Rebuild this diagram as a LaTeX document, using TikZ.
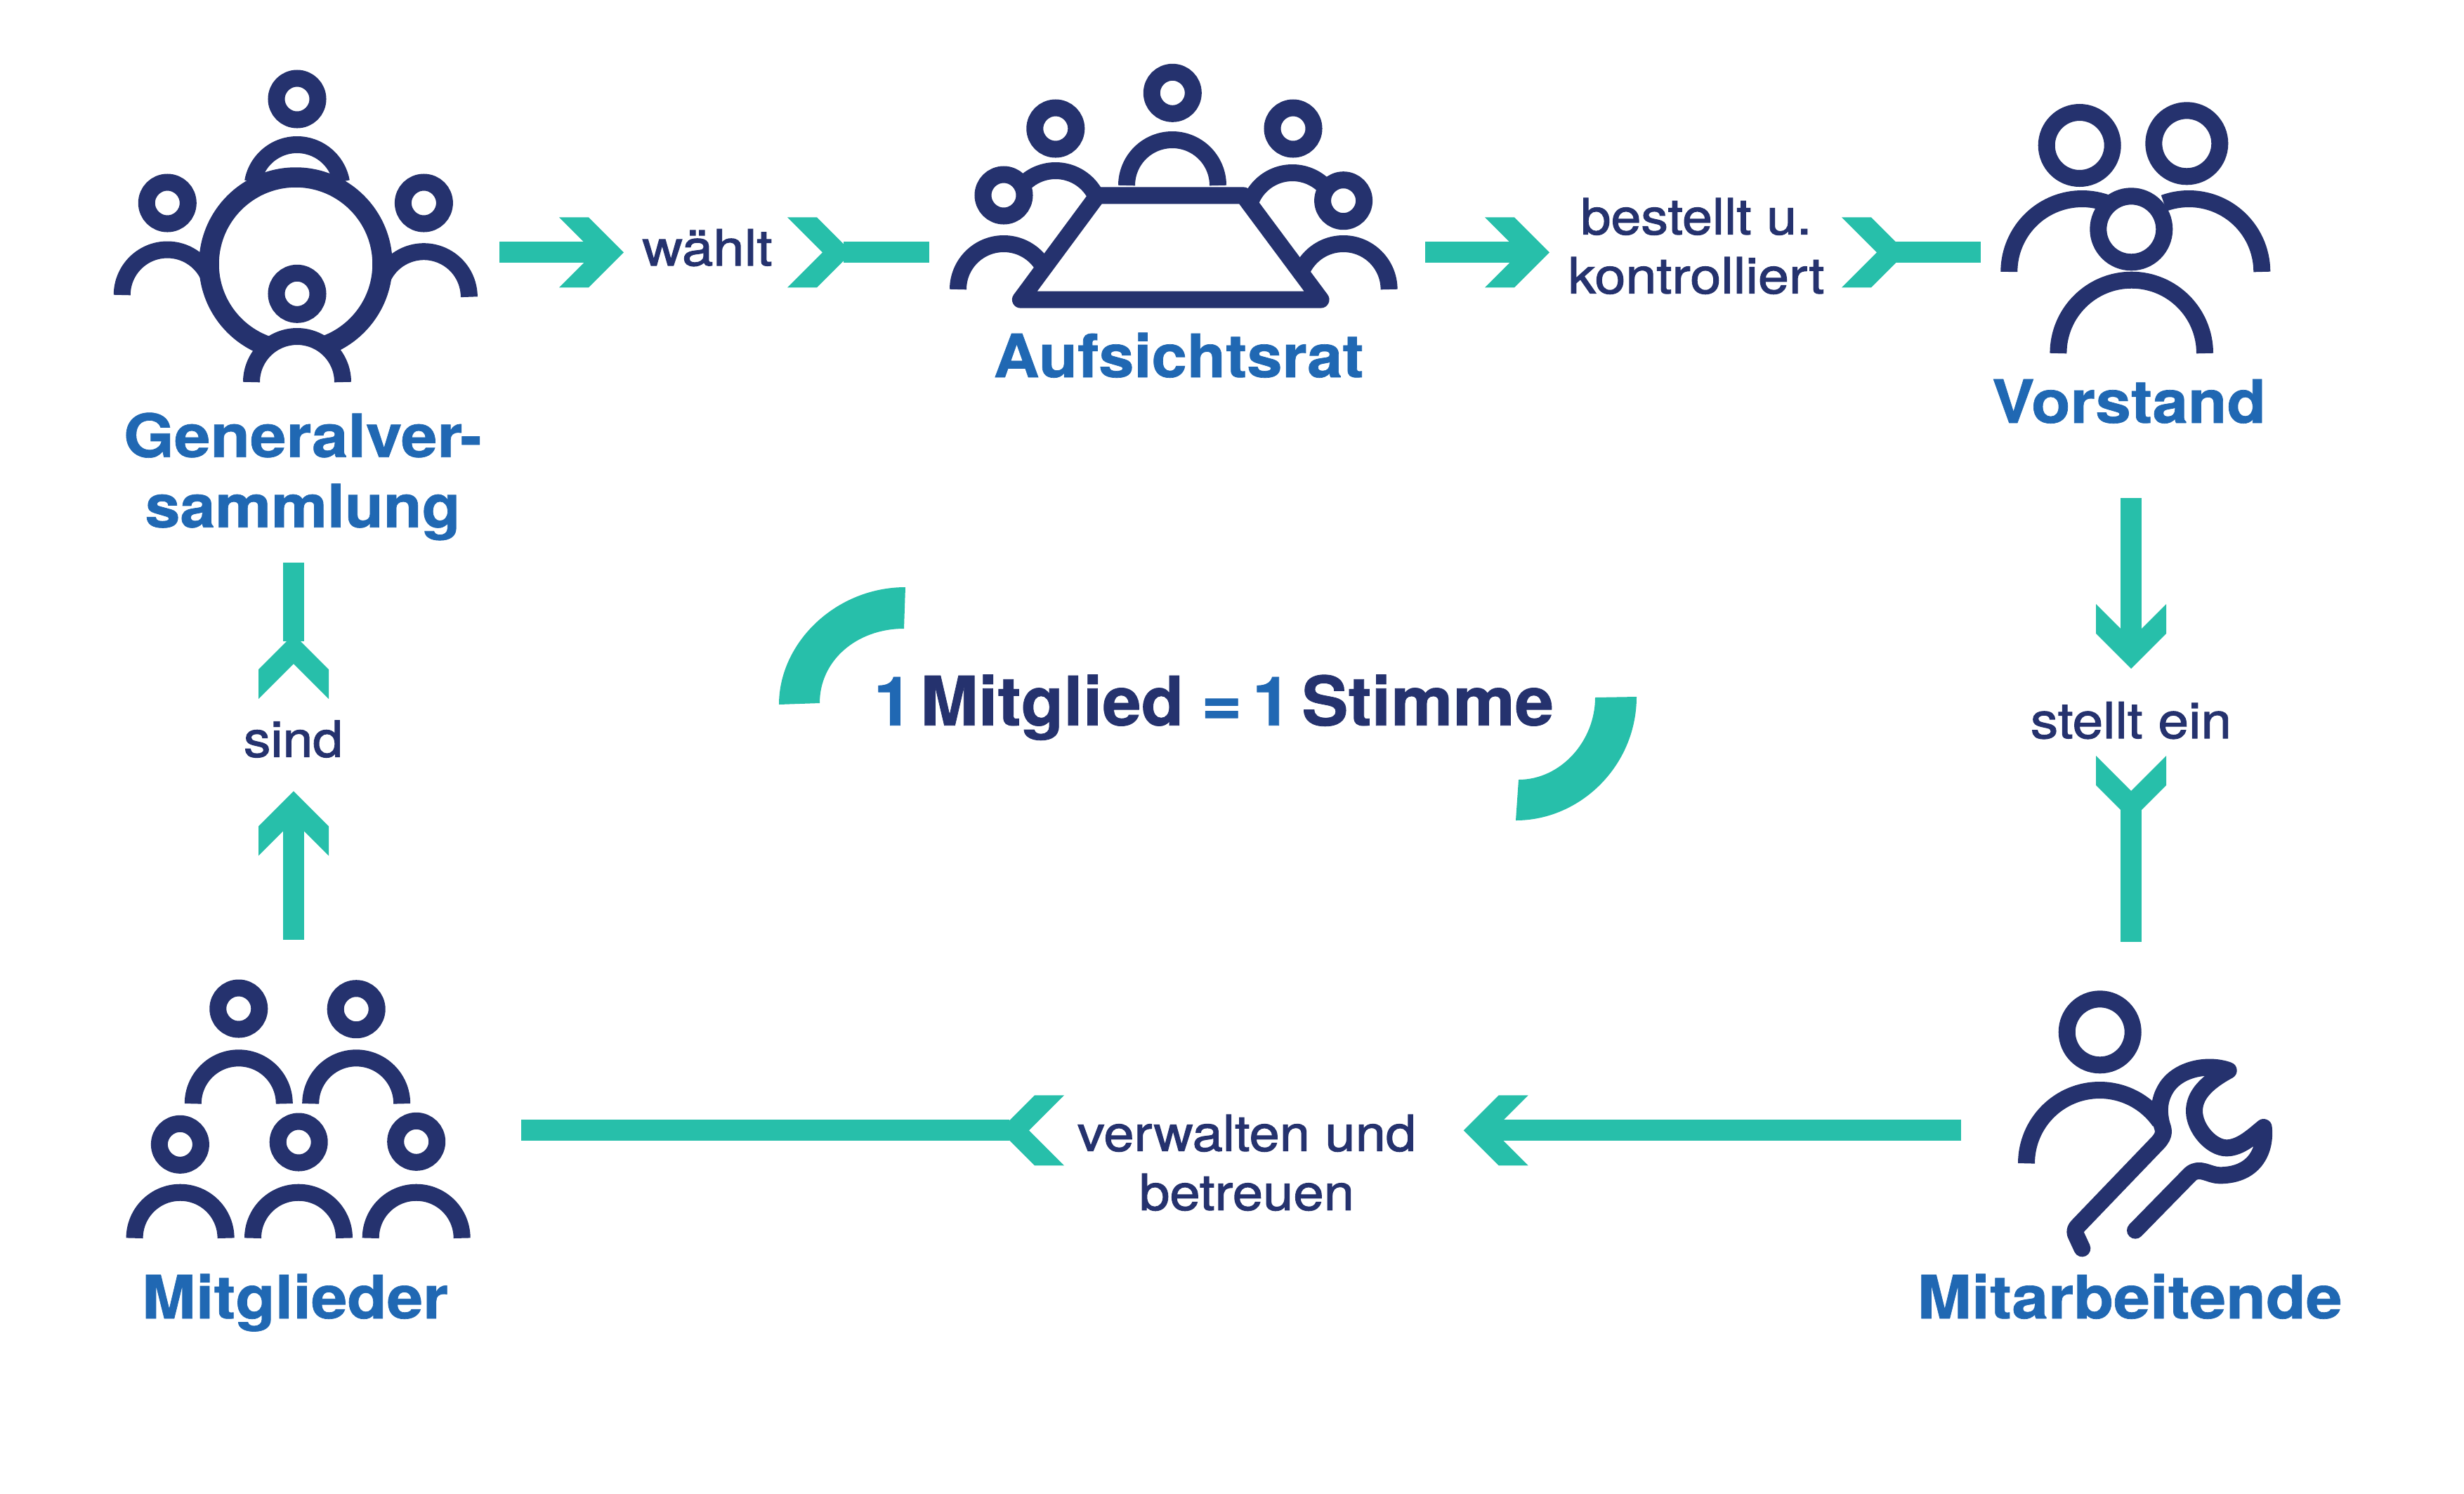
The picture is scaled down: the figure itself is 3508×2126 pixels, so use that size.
\documentclass[tikz,border=0pt]{standalone}
\usepackage{fontspec}
\usepackage{graphicx}
\setmainfont{TeX Gyre Heros}
\newfontfamily\lblfont[FakeBold=1.5]{TeX Gyre Heros}
\newfontfamily\ttlfont[FakeBold=0.8]{TeX Gyre Heros Bold}
\definecolor{navy}{RGB}{37,50,110}
\definecolor{brand}{RGB}{32,104,179}
\definecolor{mint}{RGB}{39,191,170}
\newlength\pxu
\setlength\pxu{0.01cm}
\newcommand\wbox[2]{\resizebox{#1\pxu}{\height}{#2}}
\newcommand\hd[3]{\draw[icon,fill=white] (#1,#2) circle[radius=#3];}
% full half-ring body: cx cy r
\newcommand\bd[3]{\draw[icon] ({#1-#3},#2) arc[start angle=180,end angle=360,radius=#3];}
% partial body: cx cy r from to
\newcommand\bdp[5]{\draw[icon] ({#1+#3*cos(#4)},{#2+#3*sin(#4)}) arc[start angle=#4,end angle=#5,radius=#3];}
% chevron head: tip coordinate, rotation
\newcommand\chev[2]{\fill[mint,shift={(#1)},rotate=#2] (0,0) -- (-50,-50) -- (-92,-50) -- (-42,0) -- (-92,50) -- (-50,50) -- cycle;}
\tikzset{
  icon/.style={draw=navy,line width=0.24cm,line cap=butt},
  flow/.style={draw=mint,line width=0.30cm,line cap=butt},
  ttl/.style={text=brand,inner sep=0pt,outer sep=0pt,align=center,anchor=base,
    font=\fontsize{24.2pt}{28.45pt}\selectfont\ttlfont},
  lbl/.style={text=navy,inner sep=0pt,outer sep=0pt,align=center,anchor=base,
    font=\fontsize{20.2pt}{23.9pt}\selectfont\lblfont},
  big/.style={text=navy,inner sep=0pt,outer sep=0pt,anchor=base,
    font=\fontsize{27.6pt}{32pt}\selectfont\ttlfont}
}
\begin{document}
\begin{tikzpicture}[x=0.01cm,y=-0.01cm]
\useasboundingbox (0,0) rectangle (3508,2126);

% ---------- Generalversammlung icon
\hd{423}{141}{29.5}
\bdp{423}{270}{64}{190}{350}
\bdp{238.3}{420}{64.5}{180}{336}
\bdp{603.4}{422.7}{64.5}{204}{360}
\hd{238.3}{289}{29.5}
\hd{603.4}{289}{29.5}
\draw[icon,line width=0.285cm] (421,376) circle[radius=123.5];
\hd{423}{418.3}{29.5}
\draw[icon,fill=white] (358,544) arc[start angle=180,end angle=360,radius=65];

% ---------- Aufsichtsrat icon
\bd{1669}{264}{65}
\bdp{1502.8}{307}{64}{220}{360}
\bdp{1840}{310}{64}{180}{320}
\bd{1429}{412}{65}
\bd{1912.6}{412}{65}
\hd{1669.3}{132.3}{29.5}
\hd{1502.8}{183}{29.5}
\hd{1841}{183}{29.5}
\hd{1429}{278}{29.5}
\hd{1912.6}{285.7}{29.5}
\draw[icon,fill=white,line join=round] (1562.5,278.4) -- (1770.3,278.4) -- (1880.5,426.6) -- (1452.9,426.6) -- cycle;

% ---------- Vorstand icon
\bdp{2964.3}{387}{104}{180}{290}
\bdp{3116.3}{387}{104}{250}{360}
\bd{3034.7}{503}{104.3}
\hd{2960.7}{207}{47}
\hd{3113.3}{204.3}{47}
\hd{3034.3}{326.3}{47}

% ---------- Mitarbeitende icon
\bdp{2989.3}{1656.3}{104.3}{180}{325}
\hd{2989.7}{1469.3}{47}
\begin{scope}[shift={(2820,1380)},scale=0.33333]
\draw[icon,line cap=round,line join=round]
  (433,1192) -- (408,1138) .. controls (398,1118) and (403,1108) .. (418,1093)
  -- (755,742) .. controls (790,705) and (780,685) .. (772,660)
  .. controls (760,610) and (760,560) .. (790,510)
  .. controls (840,425) and (970,400) .. (1058,432)
  .. controls (960,485) and (912,540) .. (912,605)
  .. controls (912,680) and (985,763) .. (1050,763)
  .. controls (1110,763) and (1165,710) .. (1208,675)
  .. controls (1218,760) and (1180,880) .. (1020,880)
  .. controls (975,880) and (935,840) .. (895,875)
  -- (660,1115);
\end{scope}

% ---------- Mitglieder icon
\hd{339.8}{1436}{29.5}
\hd{507.2}{1436.7}{29.5}
\bd{339.8}{1571.3}{65}
\bd{507.2}{1571.3}{65}
\hd{256.4}{1629.3}{29.5}
\hd{425.2}{1626}{29.5}
\hd{592.7}{1625.3}{29.5}
\bd{256.6}{1762.7}{65}
\bd{425}{1762.7}{65}
\bd{592.7}{1762.7}{65}

% ---------- titles
\node[ttl] (tGen) at (431,750.7) {\wbox{510}{Generalver-}\\\wbox{449}{sammlung}};
\node[ttl] (tAuf) at (1678,537) {\wbox{527}{Aufsichtsrat}};
\node[ttl] (tVor) at (3031,602) {\wbox{390}{Vorstand}};
\node[ttl] (tMit) at (420,1877) {\wbox{436}{Mitglieder}};
\node[ttl] (tArb) at (3032,1877) {\wbox{605}{Mitarbeitende}};

% ---------- labels
\node[lbl] (lW) at (1007,378) {\wbox{185}{wählt}};
\node[lbl] (lB) at (2415,417.7) {\wbox{329}{bestellt u.}\\\wbox{365}{kontrolliert}};
\node[lbl] (lS) at (3034,1051) {\wbox{286}{stellt ein}};
\node[lbl] (lD) at (417.5,1077.5) {\wbox{141}{sind}};
\node[lbl] (lV) at (1775,1722.7) {\wbox{482}{verwalten und}\\\wbox{306}{betreuen}};

% ---------- connectors
\coordinate (a1s) at (711,359.3);  \coordinate (a1e) at (850,359.3);  \coordinate (a1t) at (888,359.3);
\coordinate (a2s) at (1201,359.3); \coordinate (a2e) at (1323,359.3); \coordinate (a2t) at (1213,359.3);
\draw[flow] (a1s) -- (a1e); \chev{a1t}{0}
\draw[flow] (a2s) -- (a2e); \chev{a2t}{0}

\coordinate (b1s) at (2029,359.3); \coordinate (b1e) at (2168,359.3); \coordinate (b1t) at (2206,359.3);
\coordinate (b2s) at (2699,359.3); \coordinate (b2e) at (2820,359.3); \coordinate (b2t) at (2714,359.3);
\draw[flow] (b1s) -- (b1e); \chev{b1t}{0}
\draw[flow] (b2s) -- (b2e); \chev{b2t}{0}

\coordinate (c1s) at (3034,709);  \coordinate (c1e) at (3034,914); \coordinate (c1t) at (3034,952);
\coordinate (c2s) at (3034,1153); \coordinate (c2e) at (3034,1341); \coordinate (c2t) at (3034,1168);
\draw[flow] (c1s) -- (c1e); \chev{c1t}{-90}
\draw[flow] (c2s) -- (c2e); \chev{c2t}{-90}

\coordinate (d1s) at (418,1338);  \coordinate (d1e) at (418,1164);  \coordinate (d1t) at (418,1126.4);
\coordinate (d2s) at (418,912.5); \coordinate (d2e) at (418,801);   \coordinate (d2t) at (418,903);
\draw[flow] (d1s) -- (d1e); \chev{d1t}{90}
\draw[flow] (d2s) -- (d2e); \chev{d2t}{90}

\coordinate (e1s) at (2792,1609.3); \coordinate (e1e) at (2122,1609.3); \coordinate (e1t) at (2083.7,1609.3);
\coordinate (e2s) at (1437,1609.3); \coordinate (e2e) at (742,1609.3);  \coordinate (e2t) at (1423,1609.3);
\draw[flow] (e1s) -- (e1e); \chev{e1t}{180}
\draw[flow] (e2s) -- (e2e); \chev{e2t}{180}

% ---------- centre statement
\fill[mint] (1289,836) .. controls (1190,836) and (1109,915) .. (1109,1003)
  -- (1167,1001) .. controls (1167,940) and (1220,895) .. (1287,895) -- cycle;
\fill[mint] (2330,992) .. controls (2330,1090) and (2250,1168) .. (2158,1168)
  -- (2162,1110) .. controls (2222,1110) and (2271,1055) .. (2271,993) -- cycle;
\node[big] (tOne) at (1728,1032.7) {\wbox{968}{\textcolor{brand}{1}\hspace{0.11em}Mitglied\hspace{0.25em}\textcolor{brand}{=}\hspace{0.15em}\textcolor{brand}{1}\hspace{0.15em}Stimme}};
\end{tikzpicture}
\end{document}
